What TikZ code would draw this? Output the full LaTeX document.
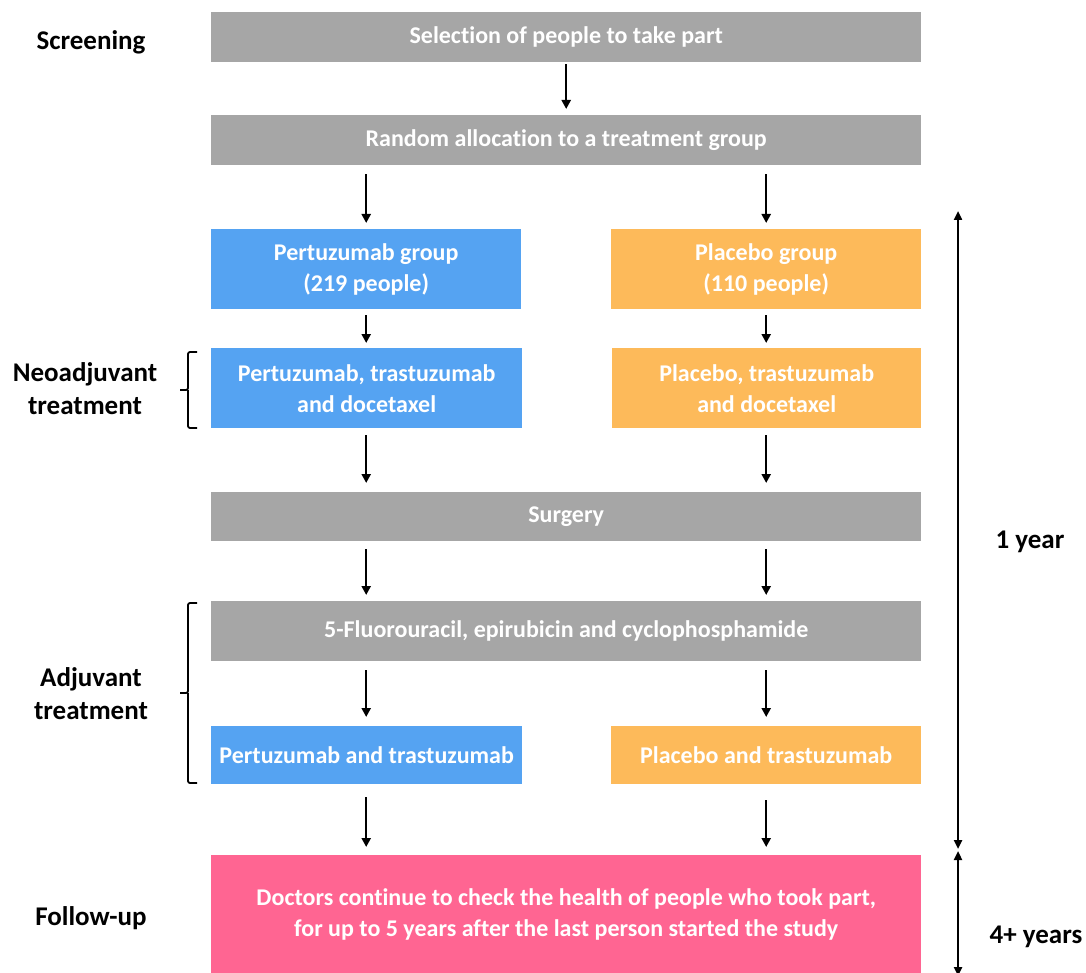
\documentclass[tikz,border=0pt]{standalone}
\usepackage{fontspec}
\setmainfont{Carlito}[Ligatures={NoCommon}]
\usetikzlibrary{arrows.meta}
\definecolor{boxgray}{HTML}{A6A6A6}
\definecolor{boxblue}{HTML}{55A3F2}
\definecolor{boxorange}{HTML}{FDBA5A}
\definecolor{boxpink}{HTML}{FF6592}
\tikzset{
  box/.style={anchor=north west, inner sep=0pt, align=center, text=white,
    font=\fontsize{24}{31}\selectfont\bfseries},
  graybox/.style={box, fill=boxgray},
  bluebox/.style={box, fill=boxblue},
  orangebox/.style={box, fill=boxorange},
  pinkbox/.style={box, fill=boxpink},
  lbl/.style={align=center, font=\fontsize{27}{33}\selectfont\bfseries, text=black},
  arr/.style={line width=2.5pt, -{Triangle[length=9pt,width=9pt]}, shorten <=2pt, shorten >=6pt},
  brk/.style={line width=1.8pt, rounded corners=2pt},
  span/.style={line width=2.2pt, {Triangle[length=9pt,width=8pt]}-{Triangle[length=9pt,width=8pt]}}
}
\begin{document}
\begin{tikzpicture}[x=1pt,y=-1pt]
\useasboundingbox (0,0) rectangle (1086,973);
% boxes
\node[graybox, minimum width=710pt, minimum height=50pt] (sel) at (211,12) {Selection of people to take part};
\node[graybox, minimum width=710pt, minimum height=50pt] (rand) at (211,115) {Random allocation to a treatment group};
\node[bluebox, minimum width=310pt, minimum height=80pt] (pg) at (211,229) {Pertuzumab group\\(219 people)};
\node[orangebox, minimum width=310pt, minimum height=80pt] (plg) at (611,229) {Placebo group\\(110 people)};
\node[bluebox, minimum width=311pt, minimum height=80pt] (pneo) at (211,348) {Pertuzumab, trastuzumab\\and docetaxel};
\node[orangebox, minimum width=309pt, minimum height=80pt] (plneo) at (612,348) {Placebo, trastuzumab\\and docetaxel};
\node[graybox, minimum width=710pt, minimum height=49pt] (surg) at (211,492) {Surgery};
\node[graybox, minimum width=710pt, minimum height=60pt] (fec) at (211,601) {5-Fluorouracil, epirubicin and cyclophosphamide};
\node[bluebox, minimum width=311pt, minimum height=58pt] (padj) at (211,726) {Pertuzumab and trastuzumab};
\node[orangebox, minimum width=310pt, minimum height=58pt] (pladj) at (611,726) {Placebo and trastuzumab};
\node[pinkbox, minimum width=710pt, minimum height=118pt] (fu) at (211,855) {Doctors continue to check the health of people who took part,\\for up to 5 years after the last person started the study};
% left labels
\node[lbl] (lscr) at (91,42) {Screening};
\node[lbl] (lneo) at (85,389) {Neoadjuvant\\treatment};
\node[lbl] (ladj) at (91,694) {Adjuvant\\treatment};
\node[lbl] (lfu) at (91,918) {Follow-up};
% right labels
\node[lbl] (l1y) at (1030,542) {1 year};
\node[lbl] (l4y) at (1036,937) {4+ years};
% flow arrows
\draw[arr] (sel.south) -- (rand.north);
\draw[arr, shorten <=9pt] (pg.north |- rand.south) -- (pg.north);
\draw[arr, shorten <=9pt] (plg.north |- rand.south) -- (plg.north);
\draw[arr, shorten <=6pt, shorten >=5pt] (pg.south) -- (pg.south |- pneo.north);
\draw[arr, shorten <=6pt, shorten >=5pt] (plg.south) -- (plg.south |- plneo.north);
\draw[arr, shorten <=7pt, shorten >=9pt] (pg.south |- pneo.south) -- (pg.south |- surg.north);
\draw[arr, shorten <=7pt, shorten >=9pt] (plg.south |- plneo.south) -- (plg.south |- surg.north);
\draw[arr, shorten <=8pt] (pg.south |- surg.south) -- (pg.south |- fec.north);
\draw[arr, shorten <=8pt] (plg.south |- surg.south) -- (plg.south |- fec.north);
\draw[arr, shorten <=9pt, shorten >=9pt] (pg.south |- fec.south) -- (pg.south |- padj.north);
\draw[arr, shorten <=9pt, shorten >=9pt] (plg.south |- fec.south) -- (plg.south |- pladj.north);
\draw[arr, shorten <=13pt, shorten >=8pt] (pg.south |- padj.south) -- (pg.south |- fu.north);
\draw[arr, shorten <=16pt, shorten >=8pt] (plg.south |- pladj.south) -- (plg.south |- fu.north);
% brackets
\coordinate (b1t) at (197,352);
\coordinate (b1b) at (197,428);
\coordinate (b1m) at (180,390);
\draw[brk] (b1t) -- (188,352) -- (188,390) -- (b1m);
\draw[brk] (188,390) -- (188,428) -- (b1b);
\coordinate (b2t) at (197,603);
\coordinate (b2b) at (197,783);
\coordinate (b2m) at (180,693);
\draw[brk] (b2t) -- (188,603) -- (188,693) -- (b2m);
\draw[brk] (188,693) -- (188,783) -- (b2b);
% time spans
\coordinate (s1t) at (958,211);
\coordinate (s1b) at (958,849);
\coordinate (s2t) at (958,851);
\coordinate (s2b) at (958,976);
\draw[span] (s1t) -- (s1b);
\draw[span] (s2t) -- (s2b);
\end{tikzpicture}
\end{document}
